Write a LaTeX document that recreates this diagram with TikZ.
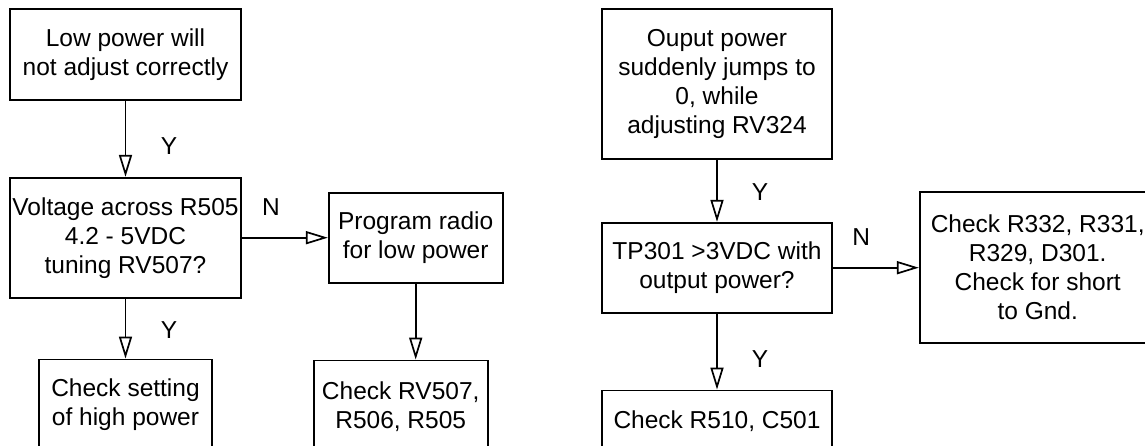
\documentclass[tikz,border=0pt]{standalone}
\usepackage{fontspec}
\setmainfont{Liberation Sans}
\usepackage{tikz}
\usetikzlibrary{arrows.meta,positioning}

\begin{document}
\begin{tikzpicture}[
  x=1pt, y={(0pt,-1pt)},
  stepbox/.style={draw, line width=1.7pt, inner sep=0pt, align=center,
    font=\fontsize{24.5}{29}\selectfont},
  yn/.style={inner sep=0pt, font=\fontsize{24.5}{29}\selectfont},
  flow/.style={line width=1.7pt, -{Triangle[open, length=22pt, width=13pt]}}
]
\useasboundingbox (0,0) rectangle (1145,445);
\clip (0,0) rectangle (1145,445);

% left chart
\node[stepbox, minimum width=231pt, minimum height=91pt] (low) at (125.5,54.5)
  {Low power will\\not adjust correctly};
\node[stepbox, minimum width=231pt, minimum height=120pt, below=76pt of low] (volt)
  {Voltage across R505\\4.2 - 5VDC\\tuning RV507?};
\node[stepbox, minimum width=173pt, minimum height=91pt, below=60pt of volt] (setting)
  {Check setting\\of high power};
\node[stepbox, minimum width=174pt, minimum height=90pt, right=86pt of volt] (prog)
  {Program radio\\for low power};
\node[stepbox, minimum width=174pt, minimum height=92pt, below=76pt of prog, xshift=-15pt] (rv)
  {Check RV507,\\R506, R505};

\draw[flow] (low) -- node[yn, pos=0.6, right=34.5pt] {Y} (volt);
\draw[flow] (volt) -- node[yn, pos=0.53, right=34.5pt] {Y} (setting);
\draw[flow] (volt) -- node[yn, pos=0.34, above=21pt] {N} (prog);
\draw[flow] (prog.south) -- (prog.south |- rv.north);

% right chart
\node[stepbox, minimum width=230pt, minimum height=150pt] (jump) at (717,84)
  {Ouput power\\suddenly jumps to\\0, while\\adjusting RV324};
\node[stepbox, minimum width=230pt, minimum height=90pt, below=62pt of jump] (tp)
  {TP301 >3VDC with\\output power?};
\node[stepbox, minimum width=230pt, minimum height=62pt, below=76pt of tp] (rc)
  {Check R510, C501};
\node[stepbox, minimum width=236pt, minimum height=151pt, right=86pt of tp] (gnd)
  {Check R332, R331,\\R329, D301.\\Check for short\\to Gnd.};

\draw[flow] (jump) -- node[yn, pos=0.52, right=34pt] {Y} (tp);
\draw[flow] (tp) -- node[yn, pos=0.6, right=34pt] {Y} (rc);
\draw[flow] (tp) -- node[yn, pos=0.33, above=21pt] {N} (gnd);
\end{tikzpicture}
\end{document}
